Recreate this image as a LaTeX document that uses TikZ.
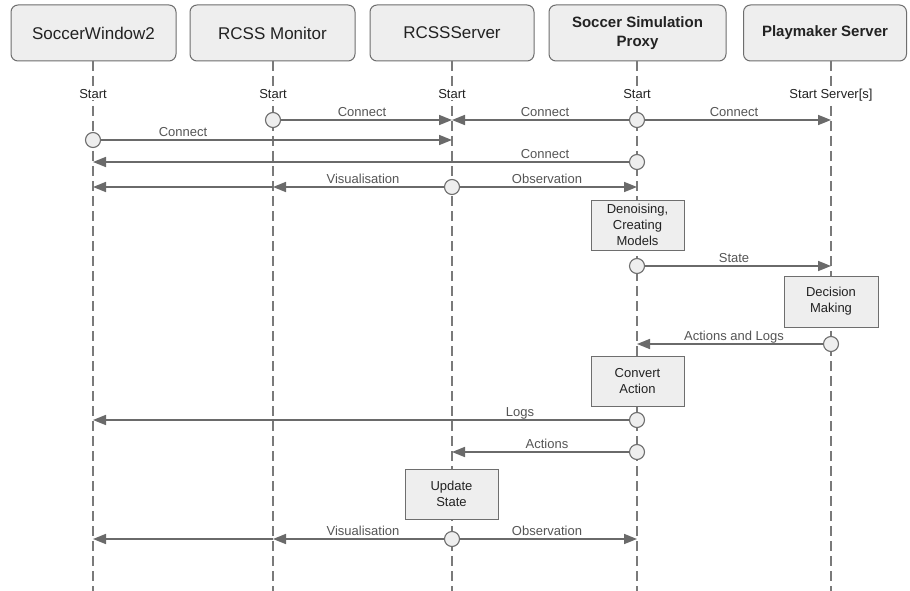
\documentclass[tikz,border=0pt]{standalone}
\usepackage{fontspec}
\setmainfont{Liberation Sans}
\usetikzlibrary{arrows.meta}
\definecolor{boxfill}{HTML}{EEEEEE}
\definecolor{boxline}{HTML}{6E6E6E}
\definecolor{lifecol}{HTML}{7A7A7A}
\definecolor{arr}{HTML}{6A6A6A}
\definecolor{lblc}{HTML}{555555}
\definecolor{txt}{HTML}{222222}
\begin{document}
\begin{tikzpicture}[x=1pt,y=-1pt,
  hdr/.style={draw=boxline,fill=boxfill,rounded corners=7pt,line width=1pt,minimum height=56pt,inner sep=0pt,text=txt,align=center},
  hdrreg/.style={hdr,font=\fontsize{17}{19}\selectfont},
  hdrbold/.style={hdr,font=\bfseries\fontsize{15}{19}\selectfont},
  life/.style={draw=lifecol,line width=1.3pt,dash pattern=on 10pt off 5pt},
  msg/.style={draw=arr,line width=1.7pt,-{Triangle[length=13pt,width=10pt]}},
  dot/.style={circle,draw=boxline,fill=boxfill,line width=1.1pt,minimum size=15pt,inner sep=0pt},
  act/.style={draw=boxline,fill=boxfill,line width=1pt,minimum width=93pt,minimum height=50pt,inner sep=0pt,align=center,font=\fontsize{13}{16}\selectfont,text=txt},
  lbl/.style={font=\fontsize{13}{15}\selectfont,text=lblc,anchor=base,inner sep=0pt},
  startlbl/.style={font=\fontsize{13}{15}\selectfont,text=txt,anchor=base,fill=white,inner sep=1pt}]
\useasboundingbox[fill=white] (0,0) rectangle (910,591);

% headers
\node[hdrreg,minimum width=165pt] (sw) at (93.5,33) {SoccerWindow2};
\node[hdrreg,minimum width=165pt] (mon) at (272.5,33) {RCSS Monitor};
\node[hdrreg,minimum width=164pt] (srv) at (452,33) {RCSSServer};
\node[hdrbold,minimum width=177pt] (prx) at (637.5,33) {Soccer Simulation\\Proxy};
\node[hdrbold,minimum width=163pt] (pm) at (825,33) {Playmaker Server};

% lifelines
\coordinate (sw0) at (93,61);   \coordinate (sw9) at (93,591);
\coordinate (mon0) at (273,61); \coordinate (mon9) at (273,591);
\coordinate (srv0) at (452,61); \coordinate (srv9) at (452,591);
\coordinate (prx0) at (637,61); \coordinate (prx9) at (637,591);
\coordinate (pm0) at (831,61);  \coordinate (pm9) at (831,591);
\draw[life] (sw0) -- (sw9);
\draw[life] (mon0) -- (mon9);
\draw[life] (srv0) -- (srv9);
\draw[life] (prx0) -- (prx9);
\draw[life] (pm0) -- (pm9);

% start labels
\node[startlbl] (st1) at (93,99) {Start};
\node[startlbl] (st2) at (273,99) {Start};
\node[startlbl] (st3) at (452,99) {Start};
\node[startlbl] (st4) at (637,99) {Start};
\node[startlbl] (st5) at (831,99) {Start Server[s]};

% message end points
\coordinate (srv1) at (452,120); \coordinate (pm1) at (831,120);
\coordinate (srv2) at (452,140);
\coordinate (sw3) at (93,162);
\coordinate (mon4) at (273,187); \coordinate (sw4) at (93,187); \coordinate (prx4) at (637,187);
\coordinate (pm5) at (831,266);
\coordinate (prx6) at (637,344);
\coordinate (sw7) at (93,420);
\coordinate (srv8) at (452,452);
\coordinate (mon9b) at (273,539); \coordinate (sw9b) at (93,539); \coordinate (prx9b) at (637,539);

% dots
\node[dot] (d1a) at (273,120) {};
\node[dot] (d1b) at (637,120) {};
\node[dot] (d2) at (93,140) {};
\node[dot] (d3) at (637,162) {};
\node[dot] (d4) at (452,187) {};
\node[dot] (d5) at (637,266) {};
\node[dot] (d6) at (831,344) {};
\node[dot] (d7) at (637,420) {};
\node[dot] (d8) at (637,452) {};
\node[dot] (d9) at (452,539) {};

% messages
\draw[msg] (d1a) -- (srv1);
\draw[msg] (d1b) -- (srv1);
\draw[msg] (d1b) -- (pm1);
\draw[msg] (d2) -- (srv2);
\draw[msg] (d3) -- (sw3);
\draw[msg] (d4) -- (mon4);
\draw[msg] (mon4) -- (sw4);
\draw[msg] (d4) -- (prx4);
\draw[msg] (d5) -- (pm5);
\draw[msg] (d6) -- (prx6);
\draw[msg] (d7) -- (sw7);
\draw[msg] (d8) -- (srv8);
\draw[msg] (d9) -- (mon9b);
\draw[msg] (mon9b) -- (sw9b);
\draw[msg] (d9) -- (prx9b);

% labels
\node[lbl] (l1a) at (362,116.5) {Connect};
\node[lbl] (l1b) at (545,116.5) {Connect};
\node[lbl] (l1c) at (734,116.5) {Connect};
\node[lbl] (l2) at (183,136.5) {Connect};
\node[lbl] (l3) at (545,158.5) {Connect};
\node[lbl] (l4a) at (363,183.5) {Visualisation};
\node[lbl] (l4b) at (547,183.5) {Observation};
\node[lbl] (l5) at (734,262.5) {State};
\node[lbl] (l6) at (734,340.5) {Actions and Logs};
\node[lbl] (l7) at (520,416.5) {Logs};
\node[lbl] (l8) at (547,448.5) {Actions};
\node[lbl] (l9a) at (363,535.5) {Visualisation};
\node[lbl] (l9b) at (547,535.5) {Observation};

% activity boxes
\node[act] (a1) at (637.5,225) {Denoising,\\Creating\\Models};
\node[act,minimum width=94pt,minimum height=51pt] (a2) at (831,301.5) {Decision\\Making};
\node[act] (a3) at (637.5,381) {Convert\\Action};
\node[act] (a4) at (451.5,494) {Update\\State};
\end{tikzpicture}
\end{document}
